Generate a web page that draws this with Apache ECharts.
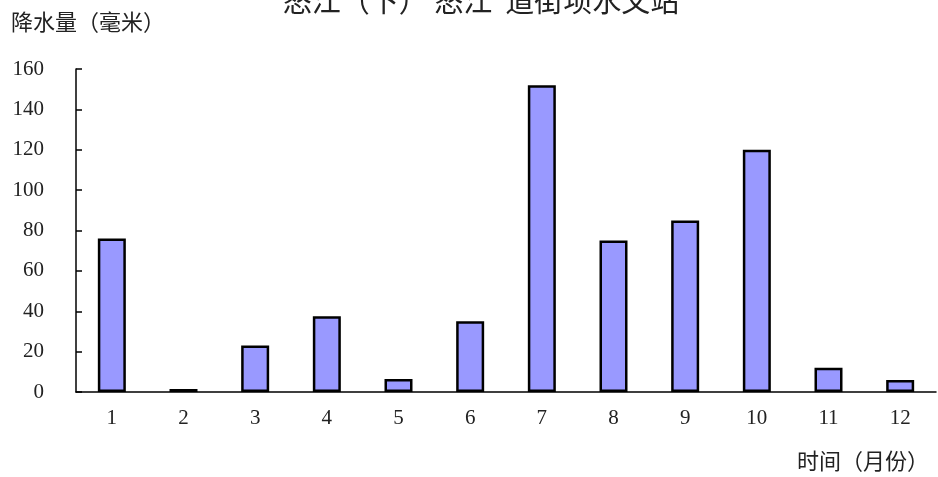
<!DOCTYPE html>
<html>
<head>
<meta charset="utf-8">
<style>
  html, body { margin: 0; padding: 0; background: #fff; }
  #chart { width: 938px; height: 477px; }
</style>
<script src="https://cdn.jsdelivr.net/npm/echarts@6/dist/echarts.min.js"></script>
</head>
<body>
<div id="chart"></div>
<script>
// Monthly precipitation at the station (mm)
const months = ['1', '2', '3', '4', '5', '6', '7', '8', '9', '10', '11', '12'];
const rainfall = [76, 1.5, 23, 37.5, 6.5, 35, 152, 75, 85, 120, 12, 6];
const yTicks = { min: 0, max: 160, step: 20 };

const titleText = '怒江（下） 怒江  道街坝水文站';
const yName = '降水量（毫米）';
const xName = '时间（月份）';

const serif = '"Liberation Serif", "DejaVu Serif", serif';
const cjk = '"Noto Sans CJK SC", sans-serif';

const chart = echarts.init(document.getElementById('chart'), null, { renderer: 'canvas' });

chart.setOption({
  backgroundColor: '#ffffff',
  animation: false,
  title: {
    text: titleText,
    left: 476,
    textAlign: 'center',
    top: -19,
    textStyle: { fontFamily: cjk, fontSize: 29, fontWeight: 'normal', color: '#222' }
  },
  grid: { left: 76, right: 2, top: 69, bottom: 85, containLabel: false },
  xAxis: {
    type: 'category',
    data: months,
    boundaryGap: true,
    axisLine: { lineStyle: { color: '#000', width: 1.5 } },
    axisTick: { inside: true, length: 6, alignWithLabel: false, lineStyle: { color: '#000', width: 1.5 } },
    axisLabel: { margin: 16, fontFamily: serif, fontSize: 21, color: '#222' },
    splitLine: { show: false }
  },
  yAxis: {
    type: 'value',
    min: yTicks.min,
    max: yTicks.max,
    interval: yTicks.step,
    axisLine: { show: true, lineStyle: { color: '#000', width: 1.5 } },
    axisTick: { show: true, inside: true, length: 6, lineStyle: { color: '#000', width: 1.5 } },
    axisLabel: { margin: 32, fontFamily: serif, fontSize: 21, color: '#222' },
    splitLine: { show: false }
  },
  graphic: [
    {
      type: 'text', left: 11, top: 11,
      style: { text: yName, font: '22px ' + cjk, fill: '#222' }
    },
    {
      type: 'text', left: 797, top: 450,
      style: { text: xName, font: '22px ' + cjk, fill: '#222' }
    }
  ],
  series: [{
    type: 'bar',
    data: rainfall,
    barWidth: 28,
    itemStyle: { color: '#9999ff', borderColor: '#000', borderWidth: 2.5 }
  }]
});
</script>
</body>
</html>
